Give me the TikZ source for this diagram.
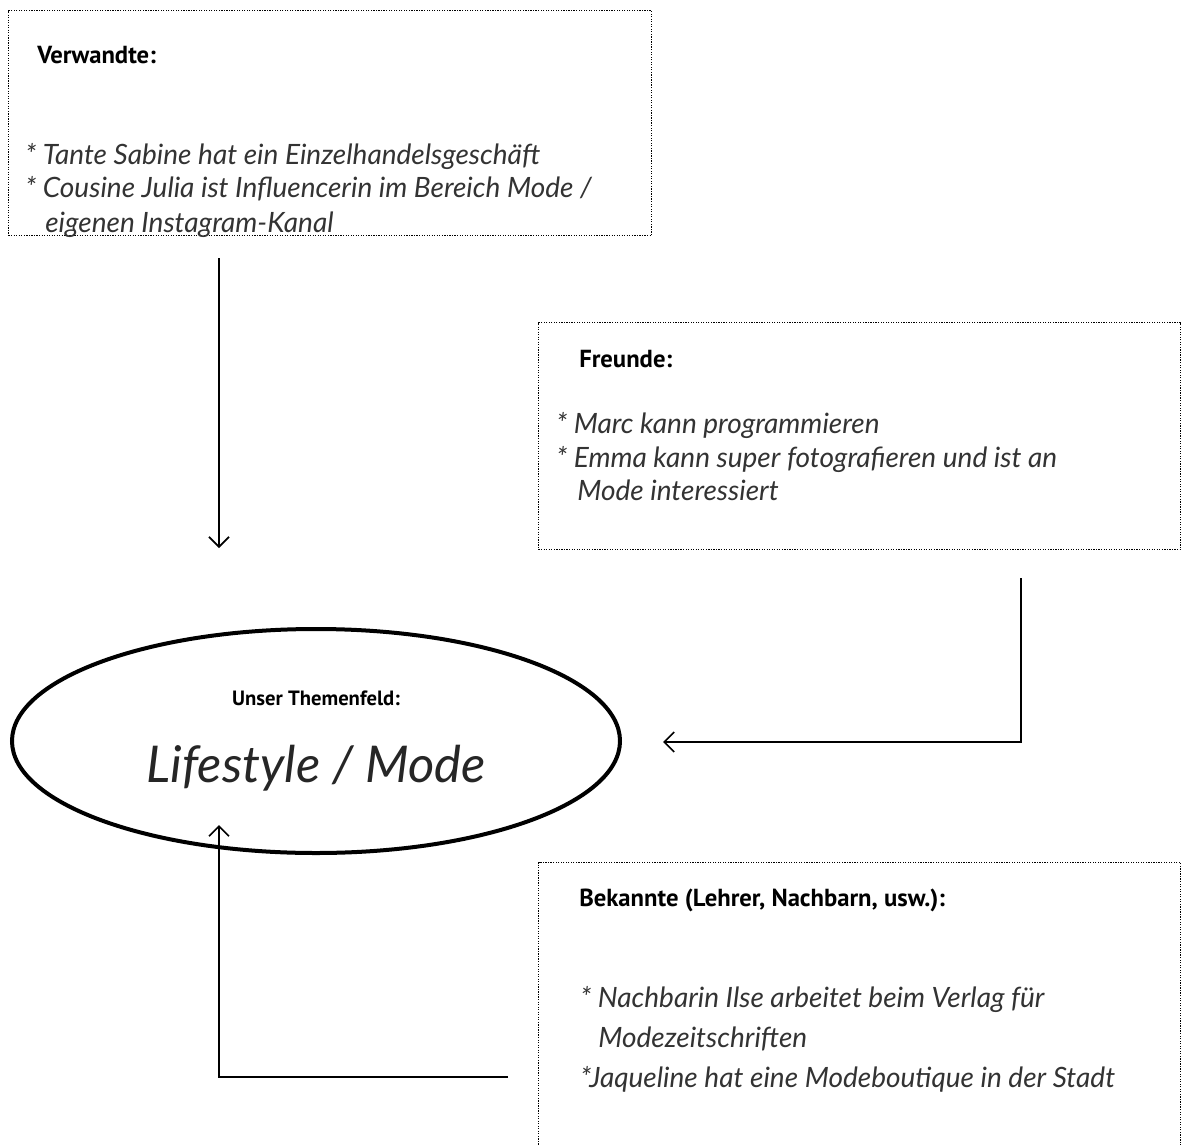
\documentclass[tikz,border=0pt]{standalone}
\usepackage{fontspec}
\setmainfont{PT Sans}
\newfontfamily\hand{Lato}
\usetikzlibrary{shapes.geometric,arrows.meta}
\begin{document}
\begin{tikzpicture}[x=0.75pt,y=-0.75pt,
  infobox/.style={draw, densely dotted, line width=0.9pt, inner sep=0pt, anchor=north west},
  heading/.style={anchor=base west, inner sep=0pt, font=\bfseries\fontsize{18.5}{22}\selectfont},
  item/.style={anchor=base west, inner sep=0pt, font=\hand\itshape\fontsize{21}{25}\selectfont, text=black!80},
  link/.style={line width=1.3pt, -{Straight Barb[length=7.5pt,width=15pt,line width=1.3pt]}}]
\path[use as bounding box, fill=white] (0,0) rectangle (1181,1145);

% boxes
\node[infobox, minimum width=482.25pt, minimum height=168.75pt] (verw) at (8,10) {};
\node[infobox, minimum width=481.5pt, minimum height=170.25pt] (freu) at (538,322) {};
\node[infobox, minimum width=481.5pt, minimum height=240pt] (bek) at (538,862) {};

% box texts
\node[heading] (verwH) at (37,64) {Verwandte:};
\node[item] (verw1) at (25,165) {* Tante Sabine hat ein Einzelhandelsgeschäft};
\node[item] (verw2) at (25,198) {* Cousine Julia ist Influencerin im Bereich Mode /};
\node[item] (verw3) at (45,232) {eigenen Instagram-Kanal};

\node[heading] (freuH) at (579,367) {Freunde:};
\node[item] (freu1) at (556,433) {* Marc kann programmieren};
\node[item] (freu2) at (556,467) {* Emma kann super fotografieren und ist an};
\node[item] (freu3) at (577,500) {Mode interessiert};

\node[heading] (bekH) at (579,906) {Bekannte (Lehrer, Nachbarn, usw.):};
\node[item] (bek1) at (580,1007) {* Nachbarin Ilse arbeitet beim Verlag für};
\node[item] (bek2) at (598,1047) {Modezeitschriften};
\node[item] (bek3) at (580,1087) {*Jaqueline hat eine Modeboutique in der Stadt};

% central topic
\node[ellipse, draw, line width=3pt, minimum width=456pt, minimum height=168pt, inner sep=0pt] (topic) at (316,741) {};
\node[font=\bfseries\fontsize{15.5}{18}\selectfont, inner sep=0pt] (topicH) at (316,698) {Unser Themenfeld:};
\node[font=\hand\itshape\fontsize{38}{42}\selectfont, inner sep=0pt, text=black!85] (topicT) at (316,768) {Lifestyle / Mode};

% arrow ends
\coordinate (a1s) at (219,258);
\coordinate (a1e) at (219,548);
\coordinate (a2s) at (1021,578);
\coordinate (a2e) at (663,742);
\coordinate (a3s) at (508,1077);
\coordinate (a3e) at (219,825);

\draw[link] (a1s) -- (a1e);
\draw[link] (a2s) |- (a2e);
\draw[link] (a3s) -| (a3e);
\end{tikzpicture}
\end{document}
